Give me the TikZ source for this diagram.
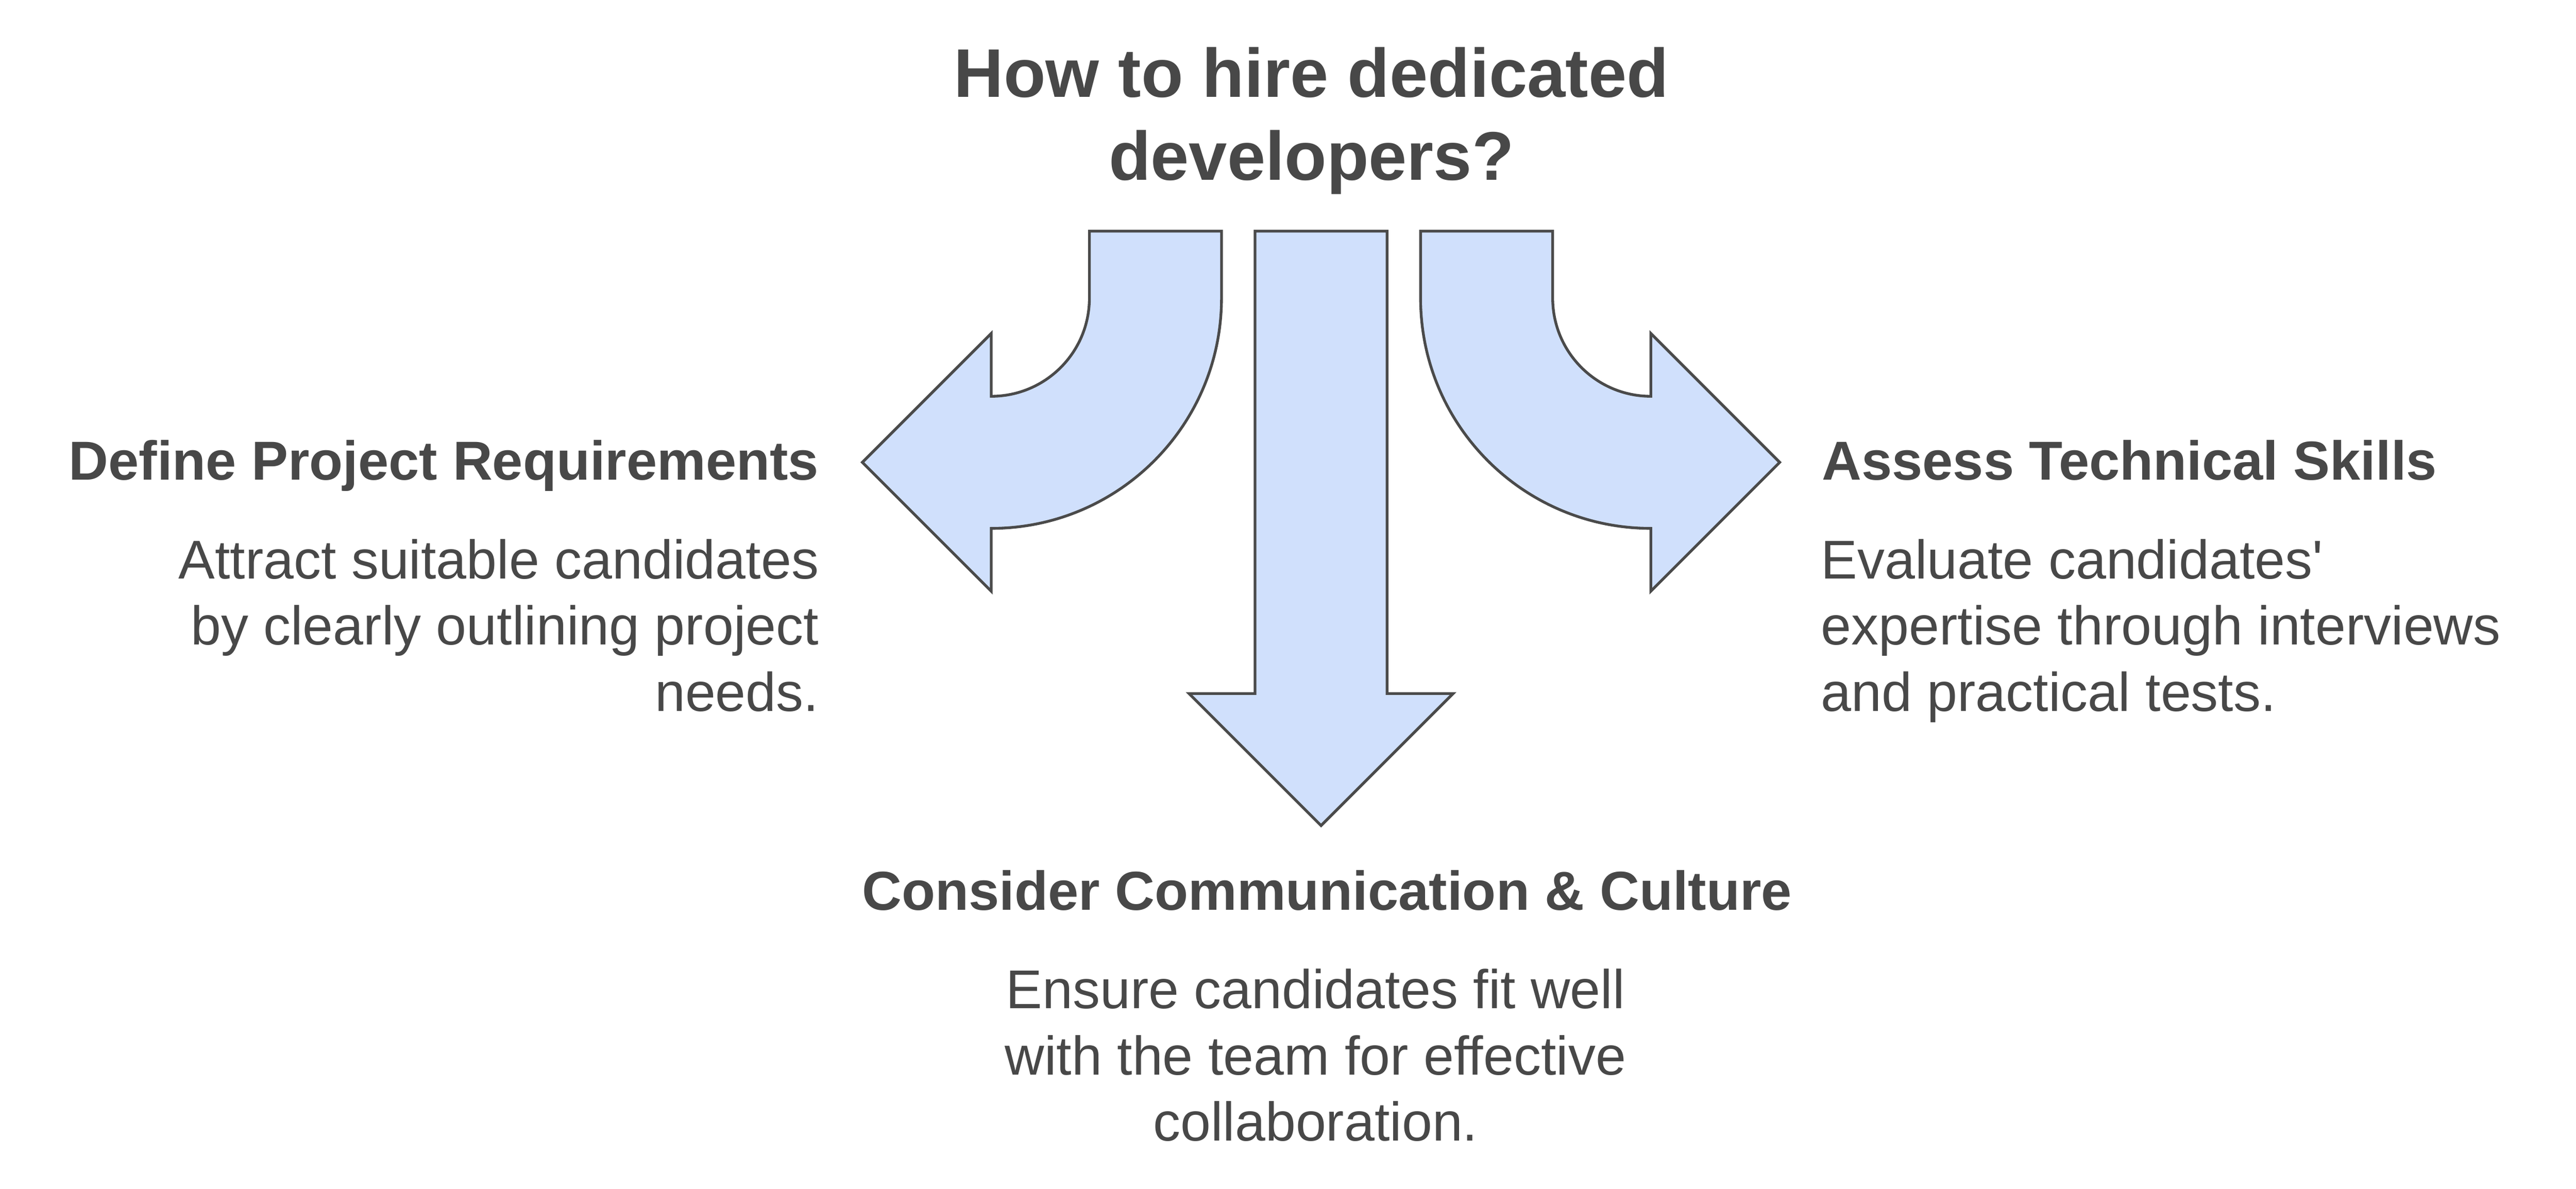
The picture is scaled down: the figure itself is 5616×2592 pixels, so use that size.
\documentclass[tikz,border=0pt]{standalone}
\usepackage{fontspec}
\setmainfont{Liberation Sans}[Ligatures=TeXOff]
\definecolor{arrowfill}{RGB}{208,224,252}
\definecolor{arrowline}{RGB}{74,74,74}
\definecolor{txt}{RGB}{72,72,72}
\begin{document}
\begin{tikzpicture}[x=0.25pt,y=-0.25pt,
  bigarrow/.style={fill=arrowfill,draw=arrowline,line width=1.5pt,line join=miter},
  txtnode/.style={inner sep=0pt,outer sep=0pt,text=txt},
  titlefont/.style={font=\fontsize{37.5}{45.2}\selectfont\bfseries},
  headfont/.style={font=\fontsize{29.9}{36}\selectfont\bfseries},
  bodyfont/.style={font=\fontsize{29.75}{36}\selectfont}]
\useasboundingbox (0,0) rectangle (5616,2592);
% arrows
\draw[bigarrow] (2375,504) -- (2375,650) .. controls (2375,768.2) and (2279.2,864) .. (2161,864)
  -- (2161,727) -- (1880,1008) -- (2161,1289) -- (2161,1152)
  .. controls (2438.3,1152) and (2663,927.3) .. (2663,650) -- (2663,504) -- cycle;
\draw[bigarrow] (3385,504) -- (3385,650) .. controls (3385,768.2) and (3480.8,864) .. (3599,864)
  -- (3599,727) -- (3880,1008) -- (3599,1289) -- (3599,1152)
  .. controls (3321.7,1152) and (3097,927.3) .. (3097,650) -- (3097,504) -- cycle;
\draw[bigarrow] (2736,504) -- (2736,1512) -- (2592,1512) -- (2880,1800) -- (3168,1512)
  -- (3024,1512) -- (3024,504) -- cycle;
% texts
\node[txtnode,titlefont,anchor=base] (title) at (2859,212)
  {\begin{tabular}[t]{@{}c@{}}How to hire dedicated\\developers?\end{tabular}};
\node[txtnode,headfont,anchor=base east] (lefthead) at (1785,1046) {Define Project Requirements};
\node[txtnode,bodyfont,anchor=base east] (leftbody) at (1785,1262)
  {\begin{tabular}[t]{@{}r@{}}Attract suitable candidates\\by clearly outlining project\\needs.\end{tabular}};
\node[txtnode,headfont,anchor=base west] (righthead) at (3972,1046) {Assess Technical Skills};
\node[txtnode,bodyfont,anchor=base west] (rightbody) at (3970,1262)
  {\begin{tabular}[t]{@{}l@{}}Evaluate candidates'\\expertise through interviews\\and practical tests.\end{tabular}};
\node[txtnode,headfont,anchor=base] (bottomhead) at (2893,1984) {Consider Communication \& Culture};
\node[txtnode,bodyfont,anchor=base] (bottombody) at (2868,2199)
  {\begin{tabular}[t]{@{}c@{}}Ensure candidates fit well\\with the team for effective\\collaboration.\end{tabular}};
\end{tikzpicture}
\end{document}
